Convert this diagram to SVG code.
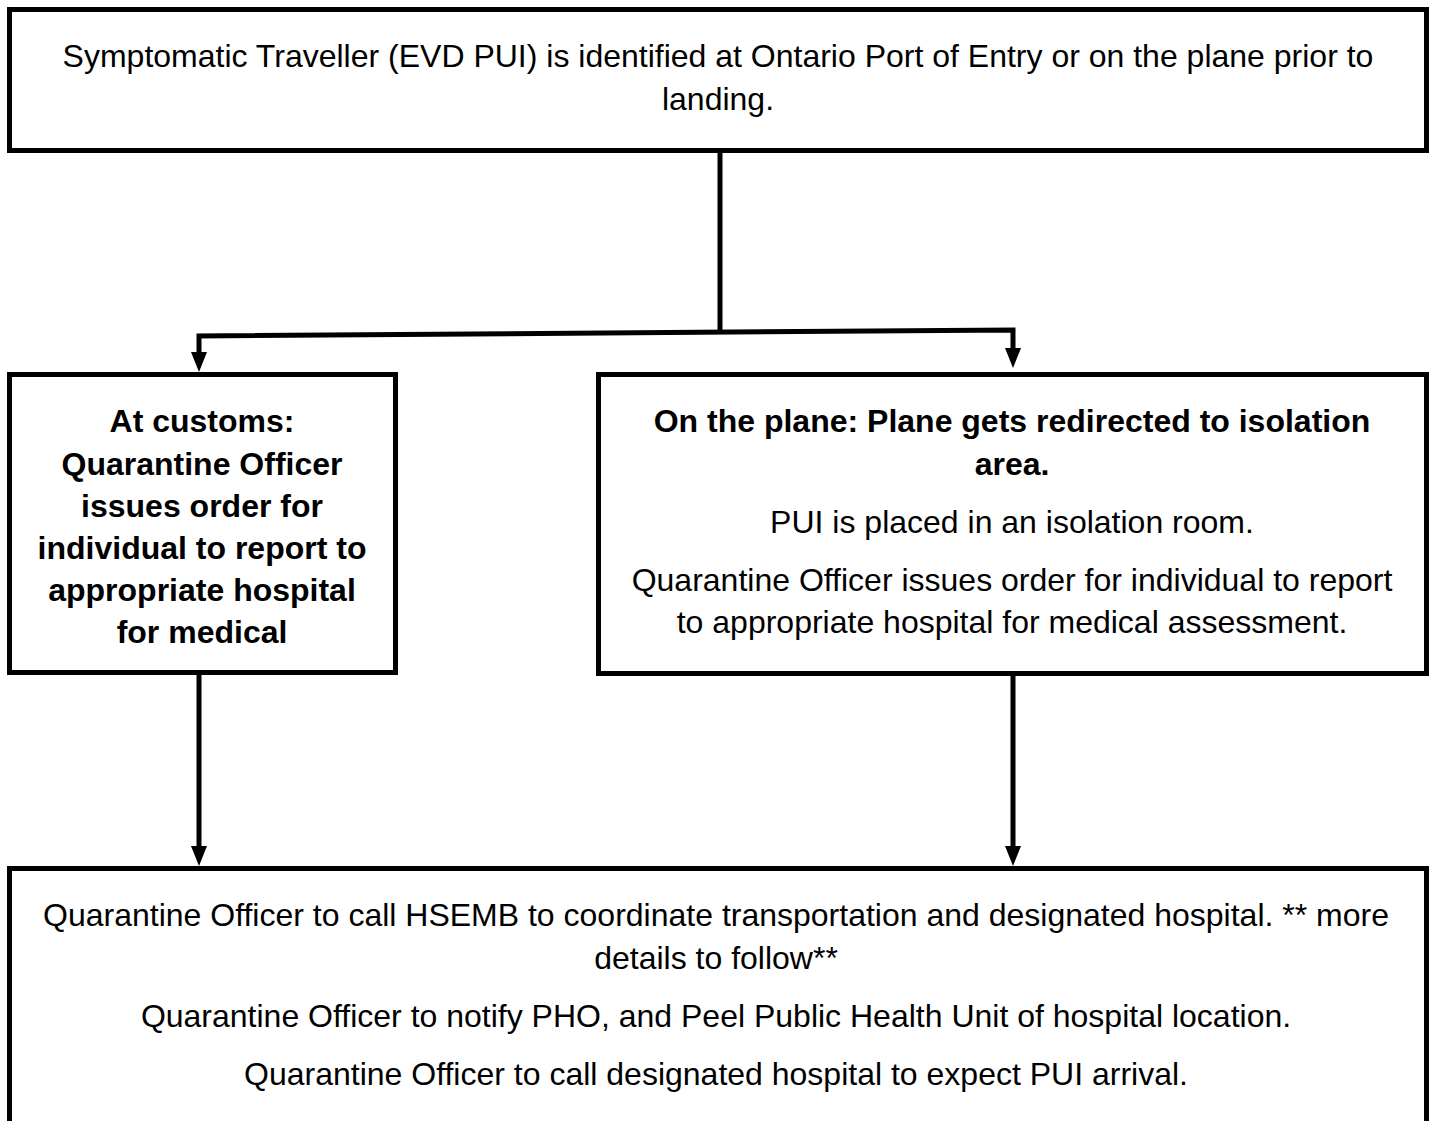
<svg xmlns="http://www.w3.org/2000/svg" width="1432" height="1121" viewBox="0 0 1432 1121">
<style>
.box{fill:#fff;stroke:#000;stroke-width:5}
.t{font-family:"Liberation Sans",Arial,sans-serif;font-size:32px;fill:#000;text-anchor:middle}
.b{font-weight:bold}
.c{fill:none;stroke:#000;stroke-width:5}
.ah{fill:#000}
</style>
<rect width="1432" height="1121" fill="#fff"/>
<g id="connectors">
<path class="c" d="M720,151 V332"/>
<path class="c" d="M199,352 V336 L1013,330 V350"/>
<polygon class="ah" points="191,352 207,352 199,372"/>
<polygon class="ah" points="1005,348 1021,348 1013,368"/>
<path class="c" d="M199,673 V848"/>
<polygon class="ah" points="191,846 207,846 199,866"/>
<path class="c" d="M1013,674 V848"/>
<polygon class="ah" points="1005,846 1021,846 1013,866"/>
</g>
<g id="top">
<rect class="box" x="9.5" y="9.5" width="1417" height="141"/>
<text class="t" x="718" y="67">Symptomatic Traveller (EVD PUI) is identified at Ontario Port of Entry or on the plane prior to</text>
<text class="t" x="718" y="110">landing.</text>
</g>
<g id="customs">
<rect class="box" x="9.5" y="374.5" width="386" height="298"/>
<text class="t b" x="202" y="432">At customs:</text>
<text class="t b" x="202" y="475">Quarantine Officer</text>
<text class="t b" x="202" y="517">issues order for</text>
<text class="t b" x="202" y="559">individual to report to</text>
<text class="t b" x="202" y="601">appropriate hospital</text>
<text class="t b" x="202" y="643">for medical</text>
</g>
<g id="plane">
<rect class="box" x="598.5" y="374.5" width="828" height="299"/>
<text class="t b" x="1012" y="432">On the plane: Plane gets redirected to isolation</text>
<text class="t b" x="1012" y="475">area.</text>
<text class="t" x="1012" y="533">PUI is placed in an isolation room.</text>
<text class="t" x="1012" y="591">Quarantine Officer issues order for individual to report</text>
<text class="t" x="1012" y="633">to appropriate hospital for medical assessment.</text>
</g>
<g id="bottom">
<rect class="box" x="9.5" y="868.5" width="1417" height="300"/>
<text class="t" x="716" y="926">Quarantine Officer to call HSEMB to coordinate transportation and designated hospital. ** more</text>
<text class="t" x="716" y="969">details to follow**</text>
<text class="t" x="716" y="1027">Quarantine Officer to notify PHO, and Peel Public Health Unit of hospital location.</text>
<text class="t" x="716" y="1085">Quarantine Officer to call designated hospital to expect PUI arrival.</text>
</g>
</svg>
